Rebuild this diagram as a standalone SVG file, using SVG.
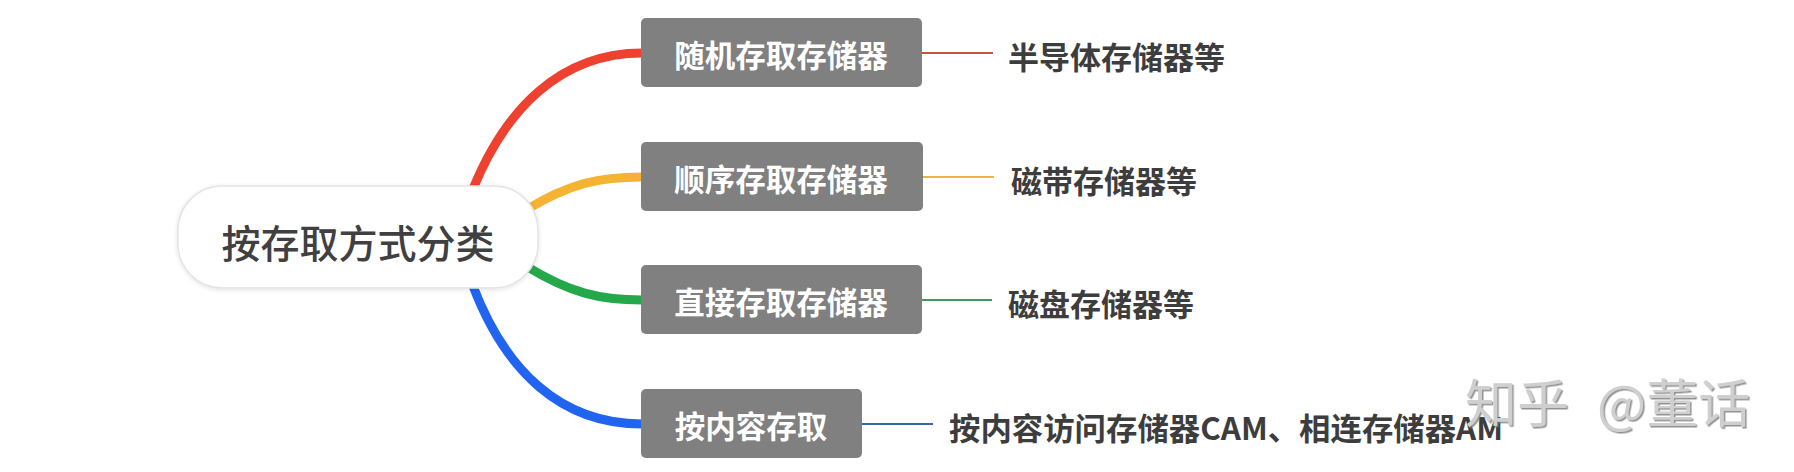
<svg xmlns="http://www.w3.org/2000/svg" width="1794" height="472" viewBox="0 0 1794 472">
<defs>
<style>
.cjk{font-family:"Noto Sans CJK SC","Noto Sans",sans-serif;}
.box{fill:#808080;}
.boxt{fill:#ffffff;font-size:30.5px;font-weight:700;text-anchor:middle;dominant-baseline:central;}
.leaf{fill:#3d3d3d;font-size:31px;font-weight:700;dominant-baseline:central;}
.br{fill:none;stroke-width:9;stroke-linecap:butt;}
.ln{fill:none;stroke-width:2;}
</style>
<filter id="sh" x="-10%" y="-20%" width="120%" height="140%">
<feDropShadow dx="0" dy="1" stdDeviation="2" flood-color="#000" flood-opacity="0.12"/>
</filter>
<filter id="wm" x="-5%" y="-20%" width="110%" height="140%">
<feDropShadow dx="1.5" dy="1.5" stdDeviation="0.6" flood-color="#777" flood-opacity="0.8"/>
</filter>
</defs>
<rect width="1794" height="472" fill="#ffffff"/>
<g id="connectors">
<path class="br" stroke="#EF4130" d="M473 189 C505 110 560 53 642 53"/>
<path class="br" stroke="#F4B331" d="M526 210 C570 183 600 177 642 177"/>
<path class="br" stroke="#25A84A" d="M526 266 C570 293 600 300 642 300"/>
<path class="br" stroke="#2064EF" d="M473 286 C505 370 560 424 642 424"/>
<line class="ln" stroke="#C8553D" x1="922" y1="53" x2="993" y2="53"/>
<line class="ln" stroke="#EBB447" x1="922" y1="177" x2="994" y2="177"/>
<line class="ln" stroke="#3A9B5C" x1="922" y1="300" x2="992" y2="300"/>
<line class="ln" stroke="#3A66A5" x1="862" y1="424" x2="933" y2="424"/>
</g>
<g id="root">
<rect x="178" y="186" width="360" height="102" rx="44" fill="#ffffff" stroke="#e4e4e4" stroke-width="1.5" filter="url(#sh)"/>
<text class="cjk" x="358" y="241" font-size="39" font-weight="500" fill="#404040" text-anchor="middle" dominant-baseline="central">按存取方式分类</text>
</g>
<g id="n1">
<rect class="box" x="641" y="18" width="281" height="69" rx="5"/>
<text class="cjk boxt" x="781" y="54">随机存取存储器</text>
</g>
<g id="n2">
<rect class="box" x="641" y="142" width="282" height="69" rx="5"/>
<text class="cjk boxt" x="781" y="178">顺序存取存储器</text>
</g>
<g id="n3">
<rect class="box" x="641" y="265" width="281" height="69" rx="5"/>
<text class="cjk boxt" x="781" y="301">直接存取存储器</text>
</g>
<g id="n4">
<rect class="box" x="641" y="389" width="221" height="69" rx="5"/>
<text class="cjk boxt" x="751" y="425">按内容存取</text>
</g>
<g id="l1"><text class="cjk leaf" x="1008" y="55">半导体存储器等</text></g>
<g id="l2"><text class="cjk leaf" x="1011" y="179">磁带存储器等</text></g>
<g id="l3"><text class="cjk leaf" x="1008" y="302">磁盘存储器等</text></g>
<g id="l4"><text class="cjk leaf" x="949" y="426" textLength="554" lengthAdjust="spacingAndGlyphs">按内容访问存储器CAM、相连存储器AM</text></g>
<g id="watermark" filter="url(#wm)">
<text class="cjk" x="1465" y="400" font-size="52" fill="#cfcfcf" dominant-baseline="central">知乎</text>
<text class="cjk" x="1597" y="400" font-size="52" fill="#cfcfcf" dominant-baseline="central">@董话</text>
</g>
</svg>
